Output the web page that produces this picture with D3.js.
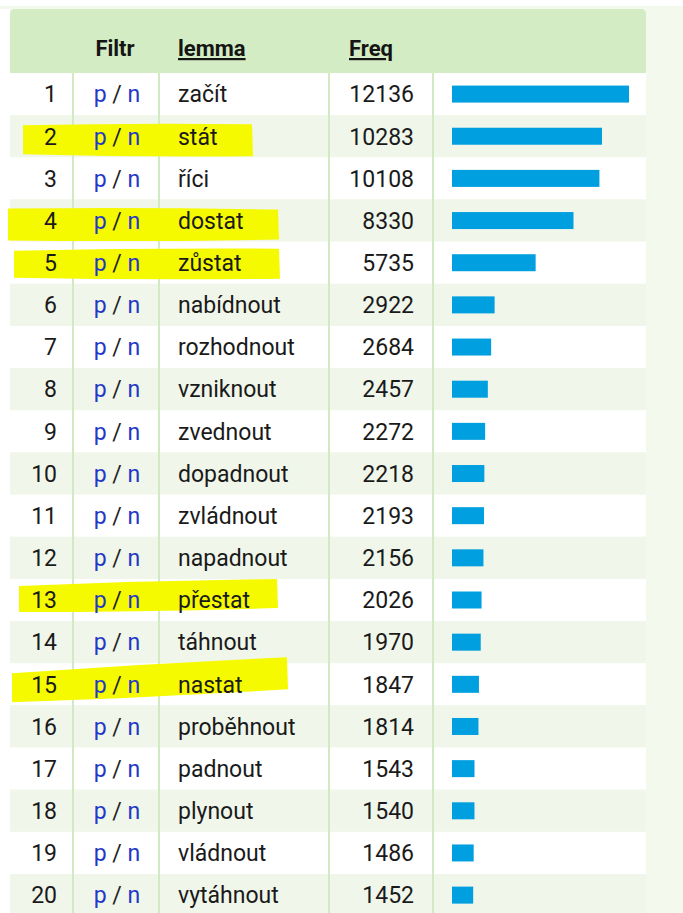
<!DOCTYPE html>
<html>
<head>
<meta charset="utf-8">
<script src="https://cdn.jsdelivr.net/npm/d3@7"></script>
<style>
  body { margin: 0; background: #ffffff; }
  svg { display: block; font-family: Roboto, "Noto Sans", sans-serif; }
</style>
</head>
<body>
<div id="chart"></div>
<script>
// table data
const ranks = [1, 2, 3, 4, 5, 6, 7, 8, 9, 10, 11, 12, 13, 14, 15, 16, 17, 18, 19, 20];
const lemmas = ["začít", "stát", "říci", "dostat", "zůstat", "nabídnout", "rozhodnout", "vzniknout",
  "zvednout", "dopadnout", "zvládnout", "napadnout", "přestat", "táhnout", "nastat", "proběhnout",
  "padnout", "plynout", "vládnout", "vytáhnout"];
const freqs = [12136, 10283, 10108, 8330, 5735, 2922, 2684, 2457, 2272, 2218, 2193, 2156, 2026,
  1970, 1847, 1814, 1543, 1540, 1486, 1452];
const headers = ["", "Filtr", "lemma", "Freq", ""];
const highlighted = [2, 4, 5, 13, 15];

const rows = ranks.map((r, i) => ({ rank: r, lemma: lemmas[i], freq: freqs[i] }));

const width = 683, height = 913;
const left = 10, right = 646, headTop = 9, headBottom = 73;
const cols = [left, 73, 159, 329, 433, right];

const svg = d3.select("#chart").append("svg")
    .attr("width", width)
    .attr("height", height);

// page background
svg.append("rect").attr("width", width).attr("height", height).attr("fill", "#ffffff");
svg.append("rect").attr("x", 0).attr("y", 6).attr("width", width).attr("height", height).attr("fill", "#f3f9ed");
svg.append("rect").attr("x", 0).attr("y", headTop).attr("width", left).attr("height", height).attr("fill", "#ffffff");

const y = d3.scaleBand()
    .domain(ranks)
    .range([headBottom, headBottom + ranks.length * 42.16]);

const x = d3.scaleLinear()
    .domain([0, d3.max(freqs)])
    .range([0, 177]);

// header
svg.append("path")
    .attr("d", `M${left},${headBottom}V${headTop + 5}Q${left},${headTop} ${left + 5},${headTop}H${right - 5}Q${right},${headTop} ${right},${headTop + 5}V${headBottom}Z`)
    .attr("fill", "#d3ecc3");

// row stripes
svg.selectAll("rect.row")
    .data(rows)
    .join("rect")
    .attr("class", "row")
    .attr("x", left)
    .attr("y", d => y(d.rank))
    .attr("width", right - left)
    .attr("height", y.bandwidth())
    .attr("fill", d => d.rank % 2 === 0 ? "#f0f6ea" : "#ffffff");

// column dividers
svg.selectAll("line.div")
    .data(cols.slice(1, -1))
    .join("line")
    .attr("class", "div")
    .attr("x1", d => d).attr("x2", d => d)
    .attr("y1", headBottom).attr("y2", height)
    .attr("stroke", "#d2eac4")
    .attr("stroke-width", 2);

// yellow marker highlights (hand drawn look)
const marks = [
  { rank: 2, x0: 23, x1: 252, t0: -11, t1: -12, b0: 18, b1: 20 },
  { rank: 4, x0: 8, x1: 278, t0: -12, t1: -11, b0: 20, b1: 19 },
  { rank: 5, x0: 14, x1: 279, t0: -12, t1: -14, b0: 15, b1: 16 },
  { rank: 13, x0: 19, x1: 277, t0: -14, t1: -21, b0: 12, b1: 8 },
  { rank: 15, x0: 12, x1: 287, t0: -11, t1: -27, b0: 18, b1: 5 }
];
svg.selectAll("path.mark")
    .data(marks)
    .join("path")
    .attr("class", "mark")
    .attr("d", m => {
      const c = y(m.rank) + y.bandwidth() / 2;
      const mid = (m.x0 + m.x1) / 2;
      return `M${m.x0},${c + m.t0} Q${mid},${c + (m.t0 + m.t1) / 2 - 2} ${m.x1},${c + m.t1}`
        + ` L${m.x1 + 1},${c + m.b1} Q${mid},${c + (m.b0 + m.b1) / 2 + 2} ${m.x0},${c + m.b0} Z`;
    })
    .attr("fill", "#f6fa00");

// header labels
const head = svg.append("g").attr("font-weight", "bold").attr("font-size", 22).attr("fill", "#151515");
head.append("text").attr("x", 115).attr("y", 56).attr("text-anchor", "middle").text(headers[1]);
head.append("text").attr("x", 178).attr("y", 56).attr("text-decoration", "underline").text(headers[2]);
head.append("text").attr("x", 349).attr("y", 56).attr("text-decoration", "underline").text(headers[3]);

// cells
const g = svg.selectAll("g.cells")
    .data(rows)
    .join("g")
    .attr("class", "cells")
    .attr("transform", d => `translate(0,${y(d.rank) + y.bandwidth() / 2})`)
    .attr("font-size", 23)
    .attr("fill", "#1a1a1a");

g.append("text")
    .attr("x", 57).attr("dy", "0.36em")
    .attr("text-anchor", "end")
    .text(d => d.rank);

const filt = g.append("text")
    .attr("x", 117).attr("dy", "0.36em")
    .attr("text-anchor", "middle");
filt.append("tspan").attr("fill", "#2438c8").text("p");
filt.append("tspan").attr("fill", "#222").text(" / ");
filt.append("tspan").attr("fill", "#2438c8").text("n");

g.append("text")
    .attr("x", 178).attr("dy", "0.36em")
    .text(d => d.lemma);

g.append("text")
    .attr("x", 414).attr("dy", "0.36em")
    .attr("text-anchor", "end")
    .text(d => d.freq);

g.append("rect")
    .attr("x", 452)
    .attr("y", -8.5)
    .attr("width", d => x(d.freq))
    .attr("height", 17)
    .attr("fill", "#009fe0");
</script>
</body>
</html>
